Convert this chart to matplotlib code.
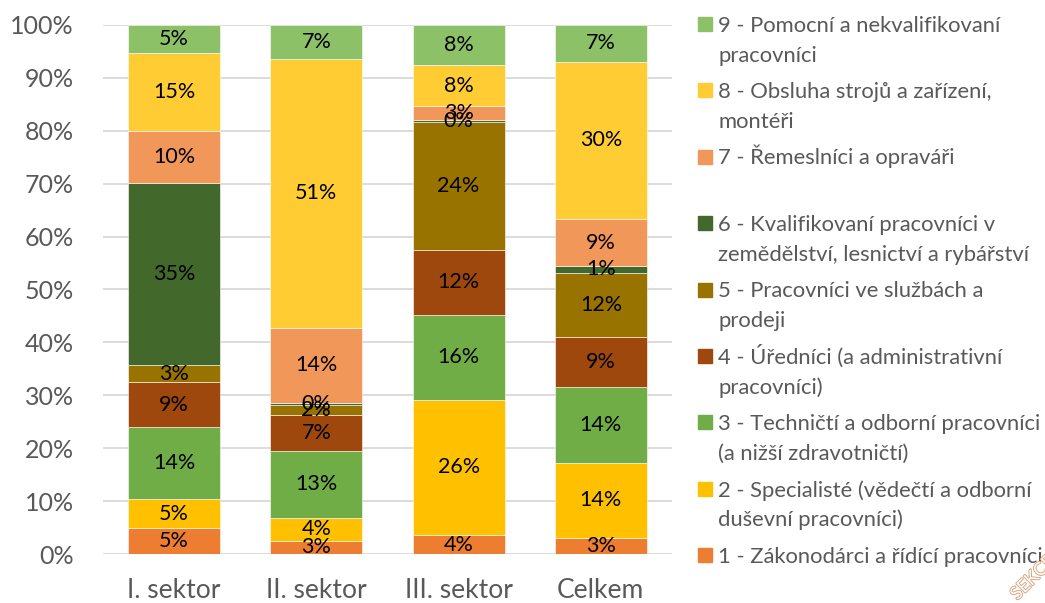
import matplotlib.pyplot as plt
import matplotlib.patheffects as pe
from matplotlib.patches import Rectangle
import numpy as np

plt.rcParams['font.family'] = ['Lato', 'DejaVu Sans']

W, H = 1045, 603
TextColor = '#595959'

sektory = ['I. sektor', 'II. sektor', 'III. sektor', 'Celkem']

# podíly zaměstnaných (%) podle hlavních tříd CZ-ISCO
trida_1 = [5.0, 2.6, 3.6, 3.1]
trida_2 = [5.4, 4.3, 25.6, 14.2]
trida_3 = [13.6, 12.6, 16.0, 14.3]
trida_4 = [8.5, 6.8, 12.3, 9.4]
trida_5 = [3.2, 1.9, 24.1, 12.2]
trida_6 = [34.5, 0.3, 0.4, 1.2]
trida_7 = [9.8, 14.3, 2.7, 8.9]
trida_8 = [14.7, 50.7, 7.6, 29.7]
trida_9 = [5.3, 6.5, 7.7, 7.0]

nazvy = [
    '1 - Zákonodárci a řídící pracovníci',
    '2 - Specialisté (vědečtí a odborní\nduševní pracovníci)',
    '3 - Techničtí a odborní pracovníci\n(a nižší zdravotničtí)',
    '4 - Úředníci (a administrativní\npracovníci)',
    '5 - Pracovníci ve službách a\nprodeji',
    '6 - Kvalifikovaní pracovníci v\nzemědělství, lesnictví a rybářství',
    '7 - Řemeslníci a opraváři',
    '8 - Obsluha strojů a zařízení,\nmontéři',
    '9 - Pomocní a nekvalifikovaní\npracovníci',
]
barvy = ['#ED7D31', '#FFC000', '#70AD47', '#9E480E', '#997300',
         '#43682B', '#F1975A', '#FFCD33', '#8CC168']

tridy = [trida_1, trida_2, trida_3, trida_4, trida_5,
         trida_6, trida_7, trida_8, trida_9]

fig = plt.figure(figsize=(W / 100, H / 100), dpi=100)
ax = fig.add_axes([103 / W, 48.7 / H, 569 / W, 529.6 / H])

x = np.arange(len(sektory))
bottom = np.zeros(len(sektory))
for vals, color in zip(tridy, barvy):
    vals = np.array(vals)
    ax.bar(x, vals, 0.647, bottom=bottom, color=color,
           edgecolor='white', linewidth=0.4, zorder=2)
    for xi, b, v in zip(x, bottom, vals):
        ax.text(xi, b + v / 2, f'{int(v + 0.5)}%', ha='center', va='center',
                fontsize=15.5, color='black', zorder=3)
    bottom += vals

ax.set_xlim(-0.5, 3.5)
ax.set_ylim(0, 100)
ax.set_yticks(np.arange(0, 101, 10))
ax.set_yticklabels([f'{t}%' for t in range(0, 101, 10)])
ax.set_xticks(x)
ax.set_xticklabels(sektory)
ax.tick_params(axis='y', length=0, pad=21, labelsize=18, labelcolor=TextColor)
ax.tick_params(axis='x', length=0, pad=17, labelsize=19, labelcolor=TextColor)
ax.grid(axis='y', color='#D9D9D9', linewidth=1.3, zorder=0)
for s in ax.spines.values():
    s.set_visible(False)

# legenda vpravo, třída 9 nahoře
for i, k in enumerate(range(8, -1, -1)):
    yb = 31.7 + i * 66.4
    fig.add_artist(Rectangle((698 / W, 1 - (yb - 0.7) / H), 14 / W, 14 / H,
                             transform=fig.transFigure, color=barvy[k]))
    for j, line in enumerate(nazvy[k].split('\n')):
        fig.text(718 / W, 1 - (yb + j * 30) / H, line, va='baseline', ha='left',
                 fontsize=15.8, color=TextColor)

fig.text(1033 / W, 1 - 578 / H, 'SEKCE', rotation=45, ha='center', va='center',
         fontsize=13, color='white',
         path_effects=[pe.withStroke(linewidth=1.3, foreground='#D9A27A')])

fig.savefig('out.png', dpi=100)
